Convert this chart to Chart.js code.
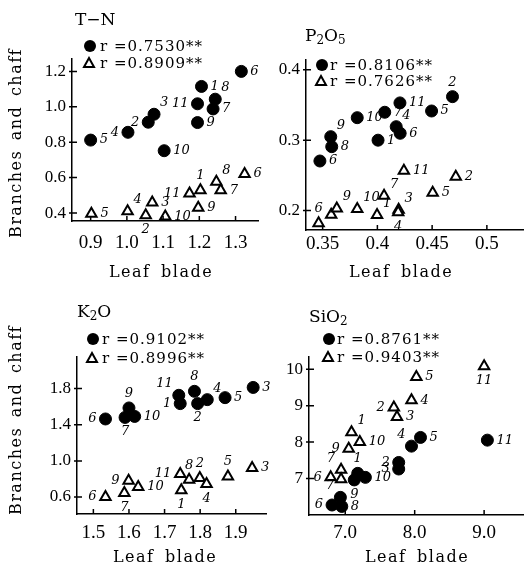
<!DOCTYPE html>
<html>
<head>
<meta charset="utf-8">
<script src="https://cdn.jsdelivr.net/npm/chart.js@4.4.0/dist/chart.umd.min.js"></script>
<style>
body { margin: 0; background: #fff; }
#wrap { position: relative; width: 531px; height: 567px; overflow: hidden; font-family: "DejaVu Serif", serif; color: #000; }
canvas { position: absolute; }
.txt { position: absolute; white-space: nowrap; line-height: 20px; height: 20px; }
.ttl { font-size: 17px; }
.ttl sub { font-size: 12px; vertical-align: -3px; }
.leg { font-size: 15px; letter-spacing: 1px; }
.xt { font-size: 16px; letter-spacing: 1.5px; word-spacing: 4px; transform: translateX(-50%); }
.yt { font-size: 16px; letter-spacing: 1.5px; word-spacing: 3px; transform: translate(-50%, -50%) rotate(-90deg); }
.mk { position: absolute; }
</style>
</head>
<body>
<div id="wrap">
  <canvas id="cTN" width="266" height="283" style="left:0;top:0"></canvas>
  <canvas id="cP" width="265" height="283" style="left:266px;top:0"></canvas>
  <canvas id="cK" width="274" height="284" style="left:0;top:283px"></canvas>
  <canvas id="cSi" width="257" height="284" style="left:274px;top:283px"></canvas>

  <div class="txt yt" style="left:16px;top:143px">Branches and chaff</div>
  <div class="txt yt" style="left:16px;top:420px">Branches and chaff</div>

  <div class="txt xt" style="left:161px;top:262px">Leaf blade</div>
  <div class="txt xt" style="left:401px;top:262px">Leaf blade</div>
  <div class="txt xt" style="left:165px;top:547px">Leaf blade</div>
  <div class="txt xt" style="left:417px;top:547px">Leaf blade</div>

  <div class="txt ttl" style="left:75px;top:9px">T&#8722;N</div>
  <div class="txt ttl" style="left:305px;top:25px">P<sub>2</sub>O<sub>5</sub></div>
  <div class="txt ttl" style="left:77px;top:301px">K<sub>2</sub>O</div>
  <div class="txt ttl" style="left:309px;top:306px">SiO<sub>2</sub></div>
</div>

<script>
// T-N  (leaf blade x, branches and chaff y)
const tnDotNo = ['1', '2', '3', '4', '5', '6', '7', '8', '9', '10', '11'];
const tnDotX = [1.206, 1.059, 1.075, 1.003, 0.900, 1.316, 1.238, 1.244, 1.195, 1.103, 1.195];
const tnDotY = [1.115, 0.913, 0.958, 0.856, 0.812, 1.200, 0.988, 1.043, 0.911, 0.752, 1.017];
const tnTriNo = ['1', '2', '3', '4', '5', '6', '7', '8', '9', '10', '11'];
const tnTriX = [1.203, 1.052, 1.070, 1.002, 0.902, 1.325, 1.259, 1.247, 1.197, 1.106, 1.173];
const tnTriY = [0.529, 0.387, 0.459, 0.410, 0.396, 0.620, 0.529, 0.576, 0.430, 0.381, 0.510];
const tnR = ['0.7530', '0.8909'];
const tnXTicks = ['0.9', '1.0', '1.1', '1.2', '1.3'];
const tnYTicks = ['0.4', '0.6', '0.8', '1.0', '1.2'];

// P2O5
const pDotNo = ['1', '2', '4', '5', '6', '6', '7', '8', '9', '10', '11'];
const pDotX = [0.4006, 0.4686, 0.4172, 0.4495, 0.4208, 0.3475, 0.4067, 0.3583, 0.3574, 0.3816, 0.4206];
const pDotY = [0.300, 0.3619, 0.3192, 0.3415, 0.3098, 0.2704, 0.3397, 0.2908, 0.305, 0.332, 0.353];
const pTriNo = ['1', '2', '3', '4', '5', '6', '7', '', '9', '10', '11'];
const pTriX = [0.3997, 0.4716, 0.4194, 0.4190, 0.4505, 0.3463, 0.4061, 0.3578, 0.3629, 0.3816, 0.4242];
const pTriY = [0.1935, 0.248, 0.2011, 0.1975, 0.2253, 0.182, 0.221, 0.194, 0.2027, 0.202, 0.2566];
const pR = ['0.8106', '0.7626'];
const pXTicks = ['0.35', '0.4', '0.45', '0.5'];
const pYTicks = ['0.2', '0.3', '0.4'];

// K2O
const kDotNo = ['1', '2', '3', '4', '5', '6', '7', '8', '9', '10', '11'];
const kDotX = [1.744, 1.793, 1.949, 1.820, 1.870, 1.534, 1.589, 1.784, 1.600, 1.616, 1.740];
const kDotY = [1.634, 1.634, 1.813, 1.678, 1.700, 1.464, 1.481, 1.770, 1.586, 1.492, 1.726];
const kTriNo = ['1', '2', '3', '4', '5', '6', '7', '8', '9', '10', '11'];
const kTriX = [1.747, 1.799, 1.946, 1.818, 1.878, 1.534, 1.587, 1.769, 1.599, 1.626, 1.744];
const kTriY = [0.676, 0.810, 0.921, 0.743, 0.828, 0.600, 0.644, 0.791, 0.780, 0.711, 0.855];
const kR = ['0.9102', '0.8996'];
const kXTicks = ['1.5', '1.6', '1.7', '1.8', '1.9'];
const kYTicks = ['0.6', '1.0', '1.4', '1.8'];

// SiO2
const sDotNo = ['1', '2', '3', '4', '5', '6', '7', '8', '9', '10', '11'];
const sDotX = [7.18, 7.77, 7.77, 7.954, 8.084, 6.81, 6.93, 6.95, 7.13, 7.29, 9.047];
const sDotY = [7.14, 7.44, 7.26, 7.889, 8.128, 6.27, 6.48, 6.23, 6.96, 7.03, 8.054];
const sTriNo = ['1', '2', '3', '4', '5', '6', '7', '', '9', '10', '11'];
const sTriX = [7.09, 7.70, 7.745, 7.954, 8.024, 6.79, 6.94, 6.94, 7.05, 7.21, 9.0];
const sTriY = [8.27, 8.95, 8.69, 9.152, 9.79, 7.03, 7.24, 6.98, 7.82, 8.0, 10.085];
const sR = ['0.8761', '0.9403'];
const sXTicks = ['7.0', '8.0', '9.0'];
const sYTicks = ['7', '8', '9', '10'];

const toPts = (xs, ys) => xs.map((x, i) => ({x: x, y: ys[i]}));
const tickFamily = '"Liberation Serif", "Times New Roman", serif';

// little hand-written numbers beside each point
const numberLabels = {
    id: 'numberLabels',
    afterDatasetsDraw(chart) {
        const ctx = chart.ctx;
        ctx.save();
        ctx.font = 'italic 13px "DejaVu Serif", serif';
        ctx.fillStyle = '#000';
        chart.data.datasets.forEach((ds, i) => {
            chart.getDatasetMeta(i).data.forEach((pt, j) => {
                const txt = ds.numbers[j];
                if (!txt) return;
                const pos = ds.places[j] || 'r';
                let x = pt.x, y = pt.y;
                ctx.textAlign = 'left';
                ctx.textBaseline = 'middle';
                if (pos === 'r') { x += 9; }
                else if (pos === 'l') { x -= 9; ctx.textAlign = 'right'; }
                else if (pos === 't') { y -= 8; ctx.textAlign = 'center'; ctx.textBaseline = 'bottom'; }
                else if (pos === 'b') { y += 8; ctx.textAlign = 'center'; ctx.textBaseline = 'top'; }
                else if (pos === 'tr') { x += 6; y -= 5; ctx.textBaseline = 'bottom'; }
                else if (pos === 'tl') { x -= 6; y -= 5; ctx.textAlign = 'right'; ctx.textBaseline = 'bottom'; }
                else if (pos === 'br') { x += 6; y += 5; ctx.textBaseline = 'top'; }
                ctx.fillText(txt, x, y);
            });
        });
        ctx.restore();
    }
};

// tick marks pointing into the plot
const innerTicks = {
    id: 'innerTicks',
    afterDraw(chart) {
        const {ctx, chartArea, scales} = chart;
        ctx.save();
        ctx.strokeStyle = '#000';
        ctx.lineWidth = 1.5;
        ctx.beginPath();
        scales.x.ticks.forEach(t => {
            const px = scales.x.getPixelForValue(t.value);
            ctx.moveTo(px, chartArea.bottom);
            ctx.lineTo(px, chartArea.bottom - 5);
        });
        scales.y.ticks.forEach(t => {
            const py = scales.y.getPixelForValue(t.value);
            ctx.moveTo(chartArea.left - 3, py);
            ctx.lineTo(chartArea.left + 5, py);
        });
        ctx.stroke();
        ctx.restore();
    }
};

function axis(range, labels, fit, fontSize, pad, horizontal) {
    return {
        type: 'linear',
        min: range[0],
        max: range[1],
        border: {display: true, color: '#000', width: 1.5},
        grid: {display: false, drawTicks: false},
        afterBuildTicks: s => { s.ticks = labels.map(v => ({value: parseFloat(v)})); },
        afterFit: s => { if (horizontal) s.height = fit; else s.width = fit; },
        ticks: {
            autoSkip: false,
            maxRotation: 0,
            padding: pad,
            color: '#000',
            font: {family: tickFamily, size: fontSize},
            callback: (v, i) => labels[i]
        }
    };
}

function makePanel(p) {
    const dots = {
        data: toPts(p.dotX, p.dotY),
        pointStyle: 'circle',
        pointRadius: 6,
        backgroundColor: '#000',
        borderColor: '#000',
        borderWidth: 1,
        numbers: p.dotNo,
        places: p.dotPlace,
        clip: false
    };
    const tris = {
        data: toPts(p.triX, p.triY),
        pointStyle: 'triangle',
        pointRadius: 6,
        backgroundColor: '#fff',
        borderColor: '#000',
        borderWidth: 2,
        numbers: p.triNo,
        places: p.triPlace,
        clip: false
    };
    new Chart(document.getElementById(p.id), {
        type: 'scatter',
        data: {datasets: [dots, tris]},
        options: {
            responsive: false,
            animation: false,
            events: [],
            layout: {padding: {top: p.top, right: p.right, left: 0, bottom: 0}},
            scales: {
                x: axis(p.xRange, p.xTicks, p.xFit, 19, p.xPad, true),
                y: axis(p.yRange, p.yTicks, p.yFit, 17, 6, false)
            },
            plugins: {legend: {display: false}, tooltip: {enabled: false}}
        },
        plugins: [innerTicks, numberLabels]
    });

    // legend rows: filled circle and open triangle
    const wrap = document.getElementById('wrap');
    const rows = [
        '<svg class="mk" width="14" height="14" style="left:' + (p.leg[0] - 7) + 'px;top:' + (p.leg[1] - 7) + 'px"><circle cx="7" cy="7" r="6" fill="#000"/></svg>',
        '<svg class="mk" width="14" height="14" style="left:' + (p.leg[0] - 8) + 'px;top:' + (p.leg[2] - 7) + 'px"><polygon points="7,2 12,11 2,11" fill="#fff" stroke="#000" stroke-width="2"/></svg>'
    ];
    wrap.insertAdjacentHTML('beforeend', rows.join(''));
    wrap.insertAdjacentHTML('beforeend',
        '<div class="txt leg" style="left:' + p.leg[3] + 'px;top:' + (p.leg[1] - 10) + 'px">r =' + p.r[0] + '**</div>' +
        '<div class="txt leg" style="left:' + p.leg[3] + 'px;top:' + (p.leg[2] - 10) + 'px">r =' + p.r[1] + '**</div>');
}

makePanel({
    id: 'cTN', top: 59, right: 8, xFit: 62, yFit: 72, xPad: 11,
    xRange: [0.8485, 1.362], yRange: [0.355, 1.27],
    xTicks: tnXTicks, yTicks: tnYTicks,
    dotX: tnDotX, dotY: tnDotY, dotNo: tnDotNo,
    dotPlace: ['r', 'l', 'tr', 'l', 'r', 'r', 'r', 'tr', 'r', 'r', 'l'],
    triX: tnTriX, triY: tnTriY, triNo: tnTriNo,
    triPlace: ['t', 'b', 'r', 'tr', 'r', 'r', 'r', 'tr', 'r', 'r', 'l'],
    r: tnR, leg: [90, 46, 63, 100]
});

makePanel({
    id: 'cP', top: 60, right: 6, xFit: 53, yFit: 40, xPad: 3,
    xRange: [0.3348, 0.533], yRange: [0.1723, 0.414],
    xTicks: pXTicks, yTicks: pYTicks,
    dotX: pDotX, dotY: pDotY, dotNo: pDotNo,
    dotPlace: ['r', 't', 'tr', 'r', 'r', 'r', 'r', 'r', 'tr', 'r', 'r'],
    triX: pTriX, triY: pTriY, triNo: pTriNo,
    triPlace: ['tr', 'r', 'tr', 'b', 'r', 't', 'tr', 'r', 'tr', 'tr', 'r'],
    r: pR, leg: [322, 65, 81, 330]
});

makePanel({
    id: 'cK', top: 74, right: 4, xFit: 53, yFit: 77, xPad: 8,
    xRange: [1.454, 1.985], yRange: [0.412, 2.15],
    xTicks: kXTicks, yTicks: kYTicks,
    dotX: kDotX, dotY: kDotY, dotNo: kDotNo,
    dotPlace: ['l', 'b', 'r', 'tr', 'r', 'l', 'b', 't', 't', 'r', 'tl'],
    triX: kTriX, triY: kTriY, triNo: kTriNo,
    triPlace: ['b', 't', 'r', 'b', 't', 'l', 'b', 't', 'l', 'r', 'l'],
    r: kR, leg: [93, 339, 358, 102]
});

makePanel({
    id: 'cSi', top: 74, right: 1, xFit: 52, yFit: 35, xPad: 7,
    xRange: [6.478, 9.56], yRange: [5.995, 10.34],
    xTicks: sXTicks, yTicks: sYTicks,
    dotX: sDotX, dotY: sDotY, dotNo: sDotNo,
    dotPlace: ['t', 'l', 'l', 'tl', 'r', 'l', 'tl', 'r', 'b', 'r', 'r'],
    triX: sTriX, triY: sTriY, triNo: sTriNo,
    triPlace: ['tr', 'l', 'r', 'r', 'r', 'l', 'tl', 'r', 'l', 'r', 'b'],
    r: sR, leg: [329, 339, 357, 337]
});
</script>
</body>
</html>
